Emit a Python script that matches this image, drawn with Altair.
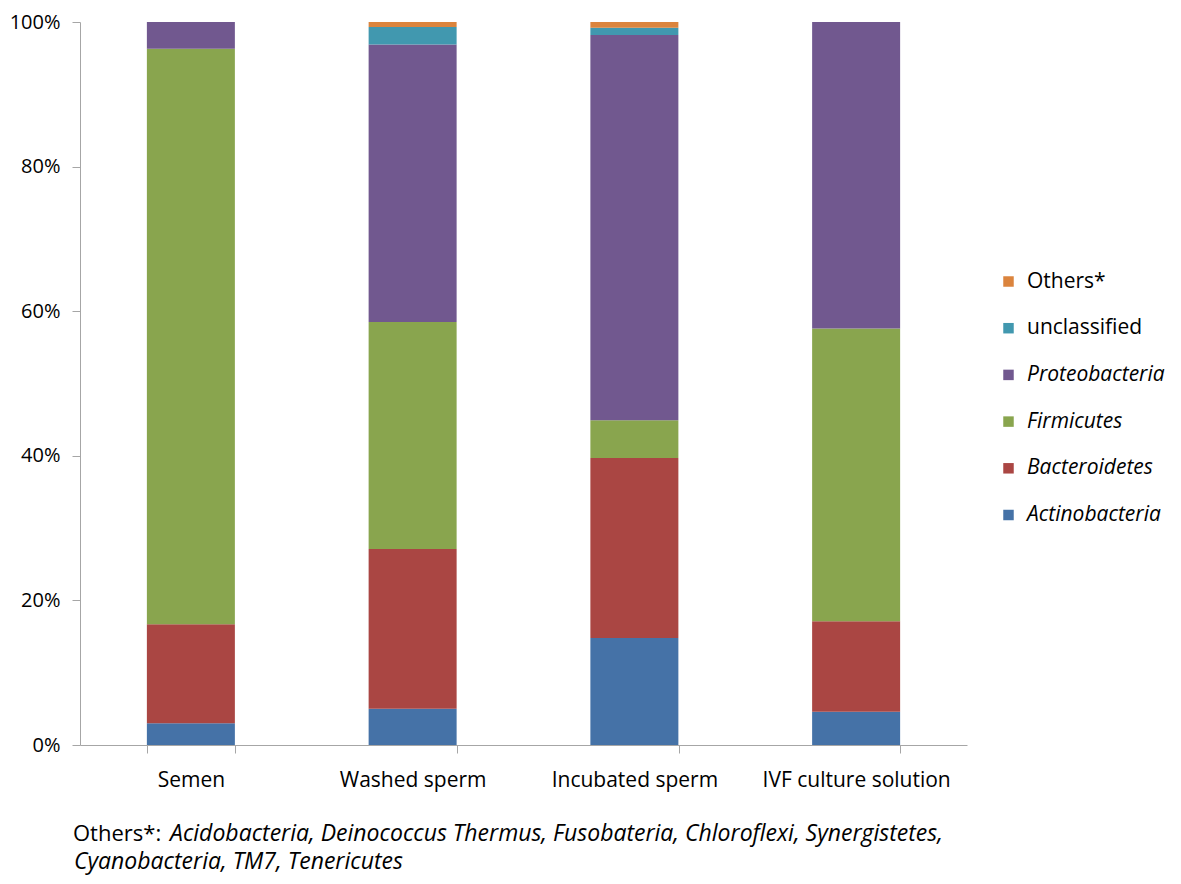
import altair as alt
import pandas as pd

samples = ["Semen", "Washed sperm", "Incubated sperm", "IVF culture solution"]
phyla = ["Actinobacteria", "Bacteroidetes", "Firmicutes", "Proteobacteria", "unclassified", "Others*"]
colors = ["#4572A7", "#AA4643", "#89A54E", "#71588F", "#4198AF", "#DB843D"]

actinobacteria = [3.0, 5.0, 14.8, 4.6]
bacteroidetes = [13.7, 22.1, 24.9, 12.5]
firmicutes = [79.6, 31.4, 5.2, 40.5]
proteobacteria = [3.7, 38.4, 53.3, 42.4]
unclassified = [0.0, 2.4, 1.0, 0.0]
others = [0.0, 0.7, 0.8, 0.0]

footnote_lead = ["Others*:"]
footnote_line1 = ["Acidobacteria, Deinococcus Thermus, Fusobateria, Chloroflexi, Synergistetes,"]
footnote_line2 = ["Cyanobacteria, TM7, Tenericutes"]

series = [actinobacteria, bacteroidetes, firmicutes, proteobacteria, unclassified, others]
rows = []
for i, (ph, vals) in enumerate(zip(phyla, series)):
    for s, v in zip(samples, vals):
        rows.append({"sample": s, "phylum": ph, "value": v, "idx": i})
df = pd.DataFrame(rows)

FONT = "Open Sans"
W, H = 887, 723

bars = alt.Chart(df).mark_bar(size=88).encode(
    x=alt.X("sample:N", sort=samples, title=None,
            scale=alt.Scale(paddingInner=0.6, paddingOuter=0.3),
            axis=alt.Axis(labelAngle=0, labelFont=FONT, labelFontSize=21, labelColor="#000000",
                          labelLimit=0,
                          domainColor="#A6A6A6", tickColor="#A6A6A6", tickSize=8,
                          tickBand="extent", labelPadding=16, grid=False)),
    y=alt.Y("value:Q", stack="normalize", title=None,
            scale=alt.Scale(domain=[0, 1]),
            axis=alt.Axis(format=".0%", values=[0, 0.2, 0.4, 0.6, 0.8, 1.0], labelFont=FONT,
                          labelFontSize=20, labelColor="#000000", domainColor="#A6A6A6",
                          tickColor="#A6A6A6", tickSize=8, labelPadding=12, grid=False)),
    color=alt.Color("phylum:N",
                    scale=alt.Scale(domain=phyla[::-1], range=colors[::-1]),
                    legend=alt.Legend(title=None, orient="none", legendX=918, legendY=249,
                                      symbolType="square", symbolSize=110, symbolStrokeWidth=0,
                                      labelFont=FONT, labelFontSize=21, labelColor="#000000",
                                      labelOffset=8, rowPadding=24.7, labelLimit=0,
                                      labelFontStyle={"expr": "datum.label == 'Others*' || datum.label == 'unclassified' ? 'normal' : 'italic'"})),
    order=alt.Order("idx:Q", sort="ascending"),
)

lead = alt.Chart(pd.DataFrame({"t": footnote_lead})).mark_text(
    align="left", baseline="middle", font=FONT, fontSize=22, color="#000000"
).encode(text="t:N", x=alt.value(-7), y=alt.value(812))

line1 = alt.Chart(pd.DataFrame({"t": footnote_line1})).mark_text(
    align="left", baseline="middle", font=FONT, fontSize=23, fontStyle="italic", color="#000000"
).encode(text="t:N", x=alt.value(90), y=alt.value(812))

line2 = alt.Chart(pd.DataFrame({"t": footnote_line2})).mark_text(
    align="left", baseline="middle", font=FONT, fontSize=23, fontStyle="italic", color="#000000"
).encode(text="t:N", x=alt.value(-6), y=alt.value(840))

chart = alt.layer(bars, lead, line1, line2).properties(
    width=W, height=H,
    autosize=alt.AutoSizeParams(type="none"),
    padding={"left": 72, "top": 14, "right": 206, "bottom": 131},
).configure_view(stroke=None)

chart.save("out.html", embed_options={"renderer": "svg", "actions": False})
